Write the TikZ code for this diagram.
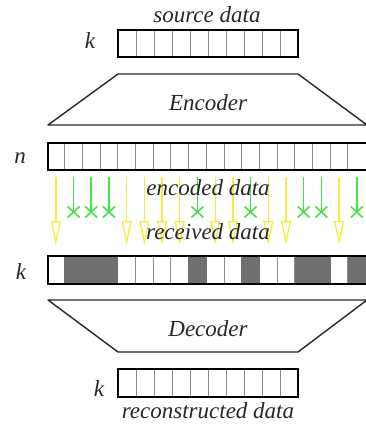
\documentclass[tikz,border=0pt]{standalone}
\usepackage{fontspec}
\setmainfont{Liberation Serif}
\usetikzlibrary{arrows.meta}
\definecolor{yel}{RGB}{240,240,60}
\definecolor{grn}{RGB}{70,225,70}
\definecolor{lost}{RGB}{112,112,112}
\definecolor{ink}{RGB}{40,40,40}
\begin{document}
\begin{tikzpicture}[x=1pt,y=-1pt,
  lbl/.style={font=\fontsize{23}{27}\selectfont\itshape, text=ink, inner sep=0pt},
  barbox/.style={draw=black, line width=1.7pt, inner sep=0pt, minimum height=27pt},
  divider/.style={draw=black!45, line width=0.9pt},
  trap/.style={draw=ink, line width=1.4pt, line join=round},
  yarrow/.style={draw=yel, line width=1.3pt, -{Triangle[open,length=24pt,width=10pt]}},
  garrow/.style={draw=grn, line width=1.6pt}]
\useasboundingbox (0,0) rectangle (365,429);

% ---------- source data ----------
\node[lbl, anchor=base] (srct) at (207,22) {source data};
\foreach \i in {1,...,9} \draw[divider] (118+\i*18,30) -- (118+\i*18,57);
\node[barbox, minimum width=180pt] (src) at (208,43.5) {};
\node[lbl, anchor=base] (ksrc) at (90,48) {k};

% ---------- encoder ----------
\draw[trap] (118,74) -- (298,74) -- (367,125) -- (48,125) -- cycle;
\node[lbl, anchor=base] (enc) at (208,110) {Encoder};

% ---------- encoded row (n) ----------
\foreach \i in {1,...,17} \draw[divider] (47+\i*17.7,143) -- (47+\i*17.7,170);
\node[barbox, minimum width=318.6pt, anchor=west] (nbar) at (47,156.5) {};
\node[lbl, anchor=base] (nlab) at (20,163) {n};

% ---------- received row (k) ----------
\foreach \i in {1,...,17} \draw[divider] (47+\i*17.7,256) -- (47+\i*17.7,284);
\foreach \i/\t in {1/0,2/1,3/1,4/1,5/0,6/0,7/0,8/0,9/1,10/0,11/0,12/1,13/0,14/0,15/1,16/1,17/0,18/1}{
  \ifnum\t=1 \fill[lost] (47+\i*17.7-17.7-0.3,256) rectangle (47+\i*17.7+0.3,284);\fi
}
\node[barbox, minimum width=318.6pt, minimum height=28pt, anchor=west] (rbar) at (47,270) {};
\node[lbl, anchor=base] (klab) at (21,279) {k};

% ---------- arrows ----------
\foreach \i/\t in {1/0,2/1,3/1,4/1,5/0,6/0,7/0,8/0,9/1,10/0,11/0,12/1,13/0,14/0,15/1,16/1,17/0,18/1}{
  \coordinate (s\i) at (47+\i*17.7-8.85,177);
  \ifnum\t=0
    \coordinate (e\i) at (47+\i*17.7-8.85,245);
    \draw[yarrow] (s\i) -- (e\i);
  \else
    \coordinate (e\i) at (47+\i*17.7-8.85,212);
    \draw[garrow] (s\i) -- (e\i);
    \draw[garrow] (e\i) ++(-6,-5.5) -- ++(12,11);
    \draw[garrow] (e\i) ++(6,-5.5) -- ++(-12,11);
  \fi
}
\node[lbl, anchor=base] (encd) at (208,195) {encoded data};
\node[lbl, anchor=base] (recd) at (208,239) {received data};

% ---------- decoder ----------
\draw[trap] (48,300) -- (367,300) -- (298,352) -- (118,352) -- cycle;
\node[lbl, anchor=base] (dec) at (208,336) {Decoder};

% ---------- reconstructed ----------
\foreach \i in {1,...,9} \draw[divider] (118+\i*18,369) -- (118+\i*18,397);
\node[barbox, minimum width=180pt, minimum height=28pt] (rec) at (208,383) {};
\node[lbl, anchor=base] (krec) at (99,396) {k};
\node[lbl, anchor=base] (rect) at (208,418) {reconstructed data};
\end{tikzpicture}
\end{document}
